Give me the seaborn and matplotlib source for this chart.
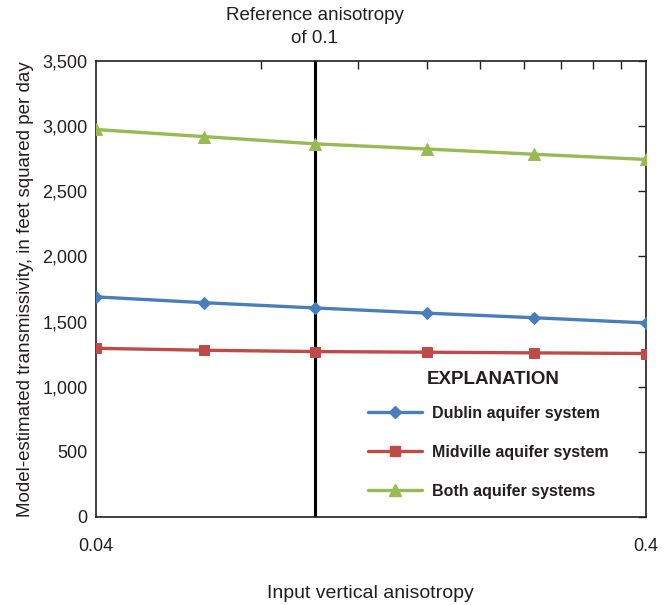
import matplotlib
matplotlib.use("Agg")
import matplotlib.pyplot as plt
import matplotlib.ticker as mticker
from matplotlib.lines import Line2D
import seaborn as sns
import pandas as pd

# Model-estimated transmissivity for each input vertical anisotropy
anisotropy = [0.04, 0.063, 0.1, 0.16, 0.25, 0.4]
dublin = [1690, 1645, 1605, 1565, 1530, 1490]
midville = [1295, 1280, 1270, 1265, 1260, 1255]
both = [2975, 2920, 2865, 2825, 2785, 2745]

series_names = ["Dublin aquifer system", "Midville aquifer system", "Both aquifer systems"]
series_colors = ["#4a7ebb", "#be4b48", "#98b954"]
series_markers = ["D", "s", "^"]
marker_sizes = [6, 7.5, 8]

reference_value = 0.1
x_major = [0.04, 0.4]
x_minor = [0.08, 0.12, 0.16, 0.20, 0.24, 0.28, 0.32, 0.36]
y_ticks = [0, 500, 1000, 1500, 2000, 2500, 3000, 3500]

sns.set_theme(style="white")
plt.rcParams["font.family"] = ["Liberation Sans", "DejaVu Sans"]
ink = "#231f20"

df = pd.DataFrame({
    "anisotropy": anisotropy * 3,
    "transmissivity": dublin + midville + both,
    "system": [n for n in series_names for _ in anisotropy],
})

fig = plt.figure(figsize=(6.70, 6.05), dpi=100)
ax = fig.add_axes([0.143, 0.1455, 0.821, 0.7535])

ax.axvline(reference_value, color="black", lw=2.2, zorder=1)

for name, color, marker, ms in zip(series_names, series_colors, series_markers, marker_sizes):
    sub = df[df["system"] == name]
    sns.lineplot(data=sub, x="anisotropy", y="transmissivity", ax=ax,
                 color=color, marker=marker, markersize=ms, markeredgecolor=color,
                 linewidth=2.4, zorder=3, legend=False)

ax.set_xscale("log")
ax.set_xlim(0.04, 0.4)
ax.set_ylim(0, 3500)
ax.xaxis.set_major_locator(mticker.FixedLocator(x_major))
ax.xaxis.set_major_formatter(mticker.FixedFormatter(["0.04", "0.4"]))
ax.xaxis.set_minor_locator(mticker.FixedLocator(x_minor))
ax.xaxis.set_minor_formatter(mticker.NullFormatter())
ax.yaxis.set_major_locator(mticker.FixedLocator(y_ticks))
ax.yaxis.set_major_formatter(mticker.FuncFormatter(lambda v, p: f"{int(v):,}"))

ax.tick_params(axis="both", which="both", direction="in", top=True, right=True,
               color=ink, width=1.0, labelsize=13, labelcolor=ink)
ax.tick_params(axis="x", which="major", length=0, pad=15)
ax.tick_params(axis="x", which="minor", length=6)
ax.tick_params(axis="y", which="major", length=6, pad=6)

for sp in ax.spines.values():
    sp.set_color(ink)
    sp.set_linewidth(1.2)

ax.set_xlabel("Input vertical anisotropy", fontsize=14, color=ink, labelpad=22)
ax.set_ylabel("Model-estimated transmissivity, in feet squared per day",
              fontsize=13.5, color=ink, labelpad=6)

ax.annotate("Reference anisotropy\nof 0.1", xy=(reference_value, 1.0),
            xycoords=ax.get_xaxis_transform(), xytext=(0, 10),
            textcoords="offset points", ha="center", va="bottom",
            fontsize=13.5, color=ink, linespacing=1.45)

# Explanation block
fig.text(493 / 670, 1 - 380 / 605, "EXPLANATION", ha="center", va="center",
         fontsize=13.5, fontweight="bold", color=ink)
handles = [Line2D([0], [0], color=c, lw=2.4, marker=m, markersize=s, markeredgecolor=c)
           for c, m, s in zip(series_colors, series_markers, marker_sizes)]
leg = ax.legend(handles, series_names, loc="upper left",
                bbox_to_anchor=(360 / 670, 1 - 398 / 605), bbox_transform=fig.transFigure,
                frameon=False, handlelength=3.4, handletextpad=0.6,
                labelspacing=1.5, borderpad=0, prop={"weight": "bold", "size": 11.5})
for t in leg.get_texts():
    t.set_color(ink)

fig.savefig("out.png", dpi=100)
